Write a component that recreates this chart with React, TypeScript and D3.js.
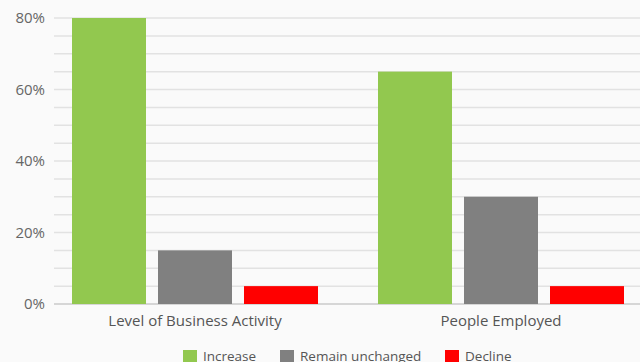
import React from "react";
import * as d3 from "d3";

const categories = ["Level of Business Activity", "People Employed"];
const seriesNames = ["Increase", "Remain unchanged", "Decline"];
const seriesColors = ["#92c84f", "#808080", "#ff0000"];
const increaseValues = [80, 65];
const unchangedValues = [15, 30];
const declineValues = [5, 5];
const yTicks = [0, 20, 40, 60, 80];
const gridTicks = d3.range(0, 81, 5);

const W = 640;
const H = 362;
const FONT = "'Open Sans', 'Noto Sans', sans-serif";

export default function App() {
  const series = [increaseValues, unchangedValues, declineValues];
  const y = d3.scaleLinear().domain([0, 80]).range([304, 18]);
  const x0 = d3.scaleBand().domain(categories).range([42, 654]).paddingInner(0).paddingOuter(0);
  const groupInner = 246;
  const x1 = d3
    .scaleBand()
    .domain(seriesNames)
    .range([0, groupInner])
    .paddingInner(12 / 86)
    .paddingOuter(0);
  const gridLeft = 54;
  const legendX = [183, 280, 445];

  return (
    <svg
      width={W}
      height={H}
      style={{ position: "absolute", left: 0, top: 0, background: "#fafafa" }}
      fontFamily={FONT}
    >
      <rect x={0} y={0} width={W} height={H} fill="#fafafa" />
      {gridTicks.map((t) => (
        <line
          key={t}
          x1={gridLeft}
          x2={W}
          y1={y(t)}
          y2={y(t)}
          stroke={t === 0 ? "#d6d6d6" : "#e2e2e2"}
          strokeWidth={t === 0 ? 2 : 1.5}
        />
      ))}
      {yTicks.map((t) => (
        <text
          key={t}
          x={45}
          y={y(t)}
          dy="0.35em"
          textAnchor="end"
          fontSize={15}
          fill="#666"
        >
          {t}%
        </text>
      ))}
      {categories.map((c, ci) => {
        const gx = (x0(c) as number) + (x0.bandwidth() - groupInner) / 2;
        return (
          <g key={c}>
            {seriesNames.map((s, si) => {
              const v = series[si][ci];
              return (
                <rect
                  key={s}
                  x={gx + (x1(s) as number)}
                  y={y(v)}
                  width={x1.bandwidth()}
                  height={y(0) - y(v)}
                  fill={seriesColors[si]}
                />
              );
            })}
            <text
              x={gx + groupInner / 2}
              y={321}
              dy="0.35em"
              textAnchor="middle"
              fontSize={15}
              fill="#555"
            >
              {c}
            </text>
          </g>
        );
      })}
      {seriesNames.map((s, si) => (
        <g key={s}>
          <rect x={legendX[si]} y={350} width={14} height={14} fill={seriesColors[si]} />
          <text x={legendX[si] + 20} y={356} dy="0.35em" fontSize={13.5} fill="#555">
            {s}
          </text>
        </g>
      ))}
    </svg>
  );
}
